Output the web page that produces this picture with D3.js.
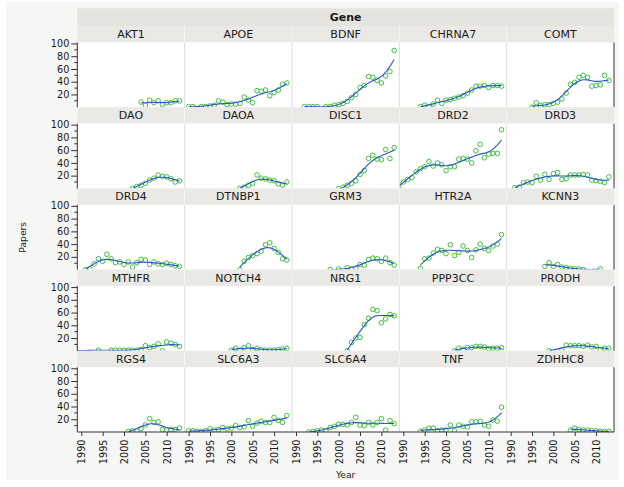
<!DOCTYPE html>
<html><head><meta charset="utf-8">
<script src="https://cdn.jsdelivr.net/npm/d3@7"></script>
<style>html,body{margin:0;padding:0;background:#fff;}svg{display:block;}</style>
</head><body>
<svg id="chart" width="624" height="487"></svg>
<script>
// ---------------- data: [year, papers] ----------------
const genes = ["AKT1","APOE","BDNF","CHRNA7","COMT","DAO","DAOA","DISC1","DRD2","DRD3","DRD4","DTNBP1","GRM3","HTR2A","KCNN3","MTHFR","NOTCH4","NRG1","PPP3CC","PRODH","RGS4","SLC6A3","SLC6A4","TNF","ZDHHC8"];
const xTicks = [1990,1995,2000,2005,2010];
const yTicks = [20,40,60,80,100];
const yMinorTicks = [10,30,50,70,90];

const AKT1 = [[2004,8],[2005,3],[2006,11],[2007,7],[2008,10],[2009,4],[2010,7],[2011,7],[2012,10],[2013,10]];
const APOE = [[1990,1],[1991,1],[1993,1],[1994,1],[1995,2],[1996,3],[1997,10],[1998,8],[1999,4],[2000,5],[2001,5],[2002,6],[2003,16],[2004,11],[2005,7],[2006,26],[2007,25],[2008,27],[2009,18],[2010,23],[2011,27],[2012,36],[2013,38]];
const BDNF = [[1992,1],[1993,1],[1994,1],[1995,1],[1997,1],[1998,1],[1999,3],[2000,4],[2001,6],[2002,9],[2003,15],[2004,20],[2005,31],[2006,34],[2007,48],[2008,47],[2009,42],[2010,38],[2011,49],[2012,56],[2013,89]];
const CHRNA7 = [[1994,1],[1995,3],[1996,1],[1997,5],[1998,11],[1999,6],[2000,11],[2001,12],[2002,14],[2003,16],[2004,18],[2005,22],[2006,27],[2007,33],[2008,33],[2009,34],[2010,31],[2011,34],[2012,34],[2013,33]];
const COMT = [[1995,0],[1996,7],[1997,3],[1998,4],[1999,4],[2000,6],[2001,8],[2002,13],[2003,22],[2004,36],[2005,39],[2006,47],[2007,50],[2008,47],[2009,33],[2010,34],[2011,35],[2012,50],[2013,42]];
const DAO = [[2002,0],[2003,3],[2004,5],[2005,8],[2006,13],[2007,16],[2008,21],[2009,19],[2010,18],[2011,15],[2012,10],[2013,12]];
const DAOA = [[2002,0],[2003,2],[2004,5],[2005,8],[2006,21],[2007,16],[2008,15],[2009,13],[2010,12],[2011,7],[2012,5],[2013,10]];
const DISC1 = [[2000,0],[2001,2],[2002,5],[2003,8],[2004,12],[2005,22],[2006,28],[2007,47],[2008,52],[2009,46],[2010,45],[2011,61],[2012,47],[2013,64]];
const DRD2 = [[1989,4],[1990,10],[1991,14],[1992,17],[1993,26],[1994,31],[1995,34],[1996,42],[1997,35],[1998,40],[1999,37],[2000,28],[2001,34],[2002,34],[2003,46],[2004,47],[2005,46],[2006,40],[2007,59],[2008,69],[2009,48],[2010,54],[2011,55],[2012,55],[2013,92]];
const DRD3 = [[1991,1],[1992,2],[1993,9],[1994,10],[1995,9],[1996,19],[1997,13],[1998,22],[1999,14],[2000,23],[2001,25],[2002,14],[2003,15],[2004,21],[2005,21],[2006,21],[2007,22],[2008,21],[2009,13],[2010,12],[2011,11],[2012,9],[2013,18]];
const DRD4 = [[1991,0],[1992,1],[1993,9],[1994,17],[1995,13],[1996,24],[1997,17],[1998,11],[1999,12],[2000,8],[2001,12],[2002,4],[2003,11],[2004,16],[2005,15],[2006,8],[2007,12],[2008,9],[2009,8],[2010,10],[2011,8],[2012,6],[2013,5]];
const DTNBP1 = [[2002,0],[2003,13],[2004,19],[2005,22],[2006,25],[2007,29],[2008,39],[2009,42],[2010,33],[2011,27],[2012,17],[2013,15]];
const GRM3 = [[1998,0],[2000,1],[2002,3],[2003,1],[2004,2],[2005,8],[2006,7],[2007,16],[2008,18],[2009,17],[2010,13],[2011,18],[2012,11],[2013,7]];
const HTR2A = [[1994,2],[1995,17],[1996,18],[1997,26],[1998,32],[1999,30],[2000,25],[2001,39],[2002,22],[2003,27],[2004,37],[2005,30],[2006,19],[2007,31],[2008,40],[2009,33],[2010,30],[2011,37],[2012,40],[2013,55]];
const KCNN3 = [[1998,5],[1999,11],[2000,5],[2001,8],[2002,4],[2003,3],[2004,2],[2005,1],[2006,1],[2007,0],[2011,1]];
const MTHFR = [[1988,0],[1994,1],[1997,1],[1998,1],[1999,1],[2000,1],[2001,1],[2002,1],[2003,1],[2004,2],[2005,8],[2006,5],[2007,7],[2008,11],[2009,0],[2010,14],[2011,12],[2012,10],[2013,7]];
const NOTCH4 = [[2000,1],[2001,4],[2002,1],[2003,5],[2004,8],[2005,2],[2006,4],[2007,2],[2008,1],[2009,1],[2010,1],[2011,2],[2012,3],[2013,4]];
const NRG1 = [[2002,0],[2003,13],[2004,20],[2005,21],[2006,41],[2007,51],[2008,65],[2009,63],[2010,44],[2011,50],[2012,57],[2013,55]];
const PPP3CC = [[2002,0],[2003,4],[2004,2],[2005,5],[2006,5],[2007,7],[2008,7],[2009,6],[2010,3],[2011,4],[2012,4],[2013,5]];
const PRODH = [[1999,0],[2002,1],[2003,9],[2004,8],[2005,8],[2006,8],[2007,7],[2008,9],[2009,6],[2010,7],[2011,2],[2012,4],[2013,4]];
const RGS4 = [[2001,1],[2002,2],[2003,2],[2004,5],[2005,11],[2006,21],[2007,15],[2008,16],[2009,4],[2010,3],[2011,4],[2012,4],[2013,6]];
const SLC6A3 = [[1990,2],[1991,2],[1992,1],[1993,1],[1994,2],[1995,5],[1996,3],[1997,4],[1998,7],[1999,5],[2000,6],[2001,10],[2002,7],[2003,8],[2004,18],[2005,9],[2006,14],[2007,17],[2008,15],[2009,15],[2010,23],[2011,18],[2012,15],[2013,26]];
const SLC6A4 = [[1993,0],[1994,1],[1995,2],[1996,3],[1997,2],[1998,7],[1999,9],[2000,12],[2001,12],[2002,11],[2003,15],[2004,23],[2005,11],[2006,10],[2007,15],[2008,11],[2009,15],[2010,21],[2011,3],[2012,18],[2013,13]];
const TNF = [[1994,1],[1995,3],[1996,6],[1997,6],[1998,2],[1999,3],[2000,3],[2001,11],[2002,2],[2003,11],[2004,9],[2005,8],[2006,16],[2007,16],[2008,17],[2009,11],[2010,9],[2011,19],[2012,17],[2013,39]];
const ZDHHC8 = [[2004,3],[2005,6],[2006,4],[2007,3],[2008,3],[2009,2],[2010,2],[2011,1],[2012,1],[2013,1]];

const series = {AKT1,APOE,BDNF,CHRNA7,COMT,DAO,DAOA,DISC1,DRD2,DRD3,DRD4,DTNBP1,GRM3,HTR2A,KCNN3,MTHFR,NOTCH4,NRG1,PPP3CC,PRODH,RGS4,SLC6A3,SLC6A4,TNF,ZDHHC8};

// ---------------- smoother (penalised cubic spline on a fine grid) ----------------
function smoothSpline(pts, lambda){
  const h = 0.25;
  const x0 = d3.min(pts, d=>d[0]), x1 = d3.max(pts, d=>d[0]);
  const n = Math.round((x1-x0)/h)+1;
  const A = Array.from({length:n}, ()=>new Float64Array(n));
  const b = new Float64Array(n);
  pts.forEach(([x,y])=>{ const i=Math.round((x-x0)/h); A[i][i]+=1; b[i]+=y; });
  const pen = lambda/Math.pow(h,3), c=[1,-2,1];
  for(let k=0;k<n-2;k++) for(let a=0;a<3;a++) for(let e=0;e<3;e++) A[k+a][k+e]+=pen*c[a]*c[e];
  for(let i=0;i<n;i++){
    for(let j=i+1;j<Math.min(n,i+3);j++){
      const f=A[j][i]/A[i][i]; if(!f) continue;
      for(let k=i;k<Math.min(n,i+3);k++) A[j][k]-=f*A[i][k];
      b[j]-=f*b[i];
    }
  }
  const z=new Float64Array(n);
  for(let i=n-1;i>=0;i--){ let s=b[i]; for(let k=i+1;k<Math.min(n,i+3);k++) s-=A[i][k]*z[k]; z[i]=s/A[i][i]; }
  return Array.from(z,(v,i)=>[x0+i*h,v]);
}

// ---------------- layout ----------------
const svg = d3.select("#chart");
const FONT = "'DejaVu Sans', Verdana, sans-serif";
const gLeft=77.3, gRight=614, ncol=5, colW=(gRight-gLeft)/ncol;
const headTop=8.3, gridTop=26, rowPitch=81.2, stripH=16.5, plotH=64.7;
const nrow=Math.ceil(genes.length/ncol);
const axisY = gridTop+(nrow-1)*rowPitch+stripH+plotH;

svg.append("rect").attr("x",6).attr("y",2).attr("width",613).attr("height",478).attr("fill","#f6f6f4");
svg.append("rect").attr("x",gLeft).attr("y",headTop).attr("width",gRight-gLeft).attr("height",gridTop-headTop).attr("fill","#e6e4df");
svg.append("text").attr("x",(gLeft+gRight)/2).attr("y",headTop+12.4).attr("text-anchor","middle")
  .attr("font-family",FONT).attr("font-size",11).attr("font-weight","bold").attr("fill","#1a1a1a").text("Gene");

const xBase = d3.scaleLinear().domain([1989.06,2014.2]);
const yBase = d3.scaleLinear().domain([0,101.5]);
const line = d3.line().x(d=>d.px).y(d=>d.py);

genes.forEach((g,i)=>{
  const r=Math.floor(i/ncol), c=i%ncol;
  const cx=gLeft+c*colW, sTop=gridTop+r*rowPitch, pTop=sTop+stripH, pBot=pTop+plotH;
  const x=xBase.copy().range([cx,cx+colW]);
  const y=yBase.copy().range([pBot,pTop]);
  svg.append("rect").attr("x",cx).attr("y",sTop).attr("width",colW).attr("height",stripH).attr("fill","#ebe9e5");
  svg.append("rect").attr("x",cx).attr("y",pTop).attr("width",colW).attr("height",plotH).attr("fill","#fff");
  svg.append("text").attr("x",cx+colW/2).attr("y",sTop+12).attr("text-anchor","middle")
    .attr("font-family",FONT).attr("font-size",11).attr("fill","#1a1a1a").text(g);
  const clipId="clip"+i;
  svg.append("clipPath").attr("id",clipId).append("rect").attr("x",cx).attr("y",pTop).attr("width",colW).attr("height",plotH);
  const pg=svg.append("g").attr("clip-path",`url(#${clipId})`);
  const pts=series[g];
  pg.selectAll("circle").data(pts).join("circle")
    .attr("cx",d=>x(d[0])).attr("cy",d=>y(d[1])).attr("r",2.3)
    .attr("fill","none").attr("stroke","#3fbf3f").attr("stroke-width",1);
  const fit=smoothSpline(pts,8).map(([a,b])=>({px:x(a),py:y(b)}));
  pg.append("path").attr("d",line(fit)).attr("fill","none").attr("stroke","#2a55c8").attr("stroke-width",1.1);
});

// separators
for(let c=1;c<ncol;c++){
  const xx=gLeft+c*colW;
  svg.append("line").attr("x1",xx).attr("x2",xx).attr("y1",gridTop).attr("y2",axisY).attr("stroke","#dcdcdc").attr("stroke-width",1);
}
for(let r=0;r<nrow;r++){
  const sTop=gridTop+r*rowPitch;
  for(let c=1;c<ncol;c++){
    const xx=gLeft+c*colW;
    svg.append("line").attr("x1",xx).attr("x2",xx).attr("y1",sTop).attr("y2",sTop+stripH).attr("stroke","#f8f8f6").attr("stroke-width",1);
  }
}

// y axes
for(let r=0;r<nrow;r++){
  const pTop=gridTop+r*rowPitch+stripH, pBot=pTop+plotH;
  const y=yBase.copy().range([pBot,pTop]);
  const ax=svg.append("g").attr("transform",`translate(${gLeft},0)`)
    .call(d3.axisLeft(y).tickValues(yTicks).tickSize(6).tickSizeOuter(0).tickPadding(2));
  ax.select(".domain").remove();
  ax.selectAll("text").attr("font-family",FONT).attr("font-size",9.7).attr("fill","#1a1a1a");
  ax.selectAll("line").attr("stroke","#333");
  yMinorTicks.forEach(v=>svg.append("line").attr("x1",gLeft-3).attr("x2",gLeft).attr("y1",y(v)).attr("y2",y(v)).attr("stroke","#333"));
  svg.append("line").attr("x1",gLeft).attr("x2",gLeft).attr("y1",pTop).attr("y2",pBot).attr("stroke","#333");
  svg.append("line").attr("x1",gRight).attr("x2",gRight).attr("y1",pTop).attr("y2",pBot).attr("stroke","#333");
}

// x axes
for(let c=0;c<ncol;c++){
  const cx=gLeft+c*colW;
  const x=xBase.copy().range([cx,cx+colW]);
  const ax=svg.append("g").attr("transform",`translate(0,${axisY})`)
    .call(d3.axisBottom(x).tickValues(xTicks).tickFormat(d3.format("d")).tickSize(4).tickSizeOuter(0));
  ax.select(".domain").remove();
  ax.selectAll("line").attr("stroke","#333");
  ax.selectAll("text").attr("font-family",FONT).attr("font-size",9.7).attr("fill","#1a1a1a")
    .attr("transform","rotate(-90)").attr("text-anchor","end").attr("x",-7.5).attr("y",0).attr("dy","0.35em");
}
svg.append("line").attr("x1",gLeft).attr("x2",gRight).attr("y1",axisY).attr("y2",axisY).attr("stroke","#333");

// axis titles
svg.append("text").attr("x",(gLeft+gRight)/2).attr("y",477.5).attr("text-anchor","middle")
  .attr("font-family",FONT).attr("font-size",9.2).attr("fill","#1a1a1a").text("Year");
svg.append("text").attr("transform",`translate(25.5,${(gridTop+stripH+axisY)/2}) rotate(-90)`).attr("text-anchor","middle")
  .attr("font-family",FONT).attr("font-size",9.2).attr("fill","#1a1a1a").text("Papers");
</script>
</body></html>
